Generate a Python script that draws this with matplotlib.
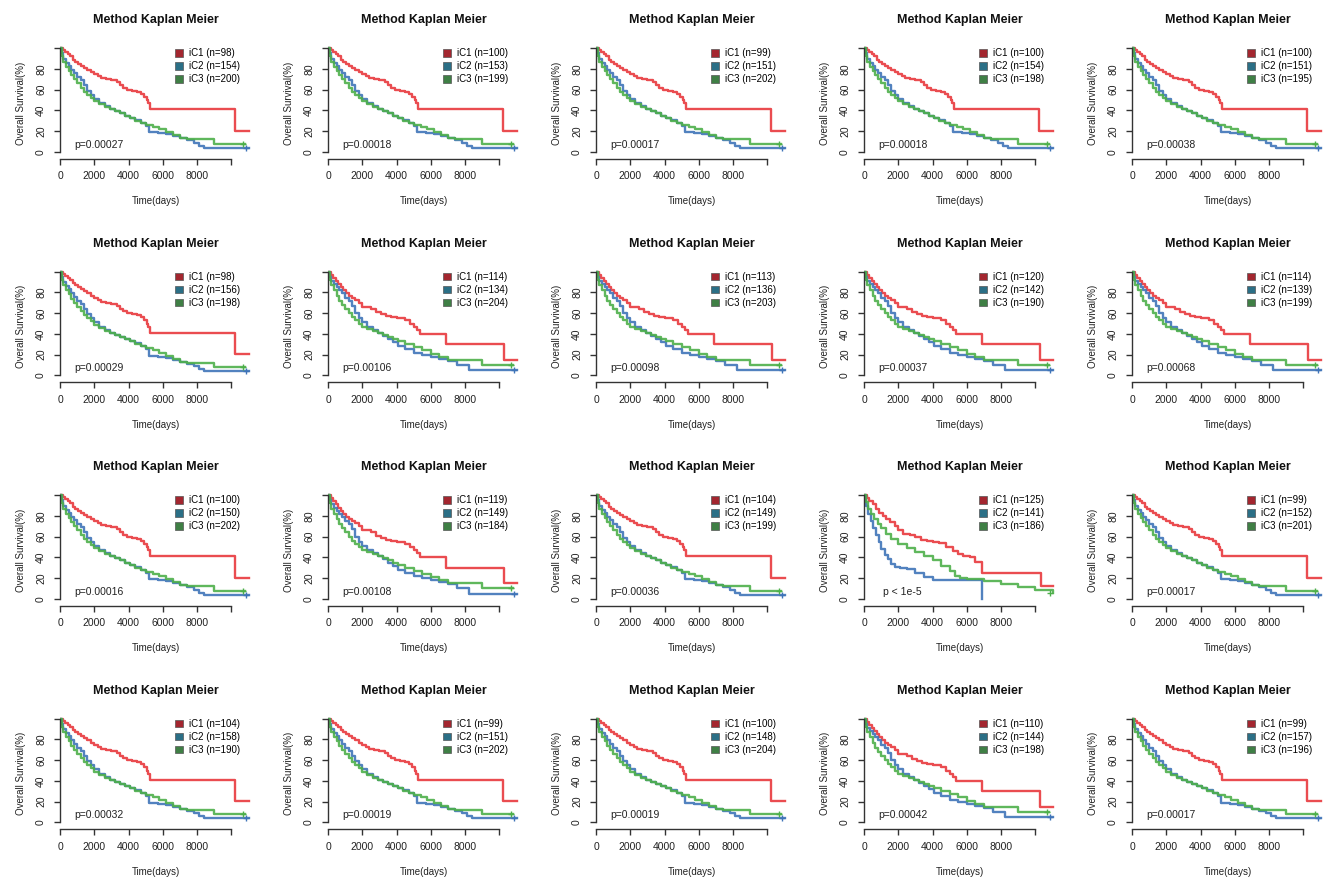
import matplotlib
matplotlib.use("Agg")
import matplotlib.pyplot as plt
from matplotlib.patches import Patch

plt.rcParams['font.family'] = ['Liberation Sans', 'DejaVu Sans']

# ---------------- data ----------------
N_IC1 = [98, 100, 99, 100, 100, 98, 114, 113, 120, 114, 100, 119, 104, 125, 99, 104, 99, 100, 110, 99]
N_IC2 = [154, 153, 151, 154, 151, 156, 134, 136, 142, 139, 150, 149, 149, 141, 152, 158, 151, 148, 144, 157]
N_IC3 = [200, 199, 202, 198, 195, 198, 204, 203, 190, 199, 202, 184, 199, 186, 201, 190, 202, 204, 198, 196]
P_TEXT = ["p=0.00027", "p=0.00018", "p=0.00017", "p=0.00018", "p=0.00038",
          "p=0.00029", "p=0.00106", "p=0.00098", "p=0.00037", "p=0.00068",
          "p=0.00016", "p=0.00108", "p=0.00036", "p < 1e-5", "p=0.00017",
          "p=0.00032", "p=0.00019", "p=0.00019", "p=0.00042", "p=0.00017"]
PANEL_SHAPE = ["A", "A", "A", "A", "A",
               "A", "B", "B", "B", "B",
               "A", "B", "A", "C", "A",
               "A", "A", "A", "B", "A"]

# shape A
RED_A_T = [0, 150, 300, 450, 600, 750, 900, 1050, 1200, 1400, 1600, 1800, 2000, 2200, 2400, 2700, 3000,
           3300, 3500, 3700, 3900, 4200, 4500, 4700, 4900, 5050, 5150, 5250, 10200, 11050]
RED_A_S = [100, 98, 96, 94, 92, 89, 87, 85, 83, 81, 79, 77, 75, 73, 71, 70, 69,
           67, 64, 62, 60, 59, 58, 56, 53, 50, 47, 41, 20.5, 20.5]
BLUE_A_T = [0, 100, 200, 350, 500, 650, 800, 1000, 1200, 1400, 1600, 1800, 2000, 2300, 2600, 2900, 3200,
            3500, 3800, 4100, 4400, 4700, 5000, 5200, 5700, 6200, 6600, 7000, 7400, 7800, 8100, 8400, 11000]
BLUE_A_S = [100, 95, 90, 86, 83, 79, 76, 72, 69, 64, 59, 55, 51, 47, 44, 41, 39,
            37, 35, 33, 31, 28, 25, 19, 18, 17, 15, 13, 11, 9, 6, 4, 4]
GREEN_A_T = [0, 100, 200, 350, 500, 650, 800, 1000, 1200, 1400, 1600, 1800, 2000, 2300, 2600, 2900, 3200,
             3500, 3800, 4100, 4400, 4700, 5000, 5400, 5800, 6200, 6600, 7000, 7400, 9000, 10800]
GREEN_A_S = [100, 92, 87, 82, 78, 74, 70, 66, 62, 58, 55, 52, 49, 46, 43, 41, 39,
             37, 35, 33, 30, 28, 26, 24, 22, 19, 16, 13, 12, 8, 8]

# shape B
RED_B_T = [0, 150, 300, 450, 600, 750, 900, 1050, 1200, 1400, 1600, 1800, 2000, 2500, 2800, 3100, 3400,
           3700, 4000, 4500, 4800, 5000, 5200, 5350, 6900, 10250, 11050]
RED_B_S = [100, 97, 94, 91, 88, 85, 82, 79, 77, 75, 73, 70, 66, 64, 61, 59, 57,
           56, 55, 53, 50, 47, 44, 40, 30, 15, 15]
BLUE_B_T = [0, 100, 200, 350, 500, 650, 800, 1000, 1200, 1400, 1600, 1800, 2000, 2300, 2600, 2900, 3200,
            3500, 3800, 4100, 4500, 5000, 5500, 6000, 6500, 7000, 7500, 8200, 11000]
BLUE_B_S = [100, 95, 91, 88, 85, 82, 79, 75, 72, 67, 60, 55, 51, 47, 44, 41, 38,
            35, 32, 28, 25, 22, 20, 18, 16, 14, 10, 5, 5]
GREEN_B_T = [0, 100, 200, 350, 500, 650, 800, 1000, 1200, 1400, 1600, 1800, 2000, 2300, 2600, 2900, 3200,
             3500, 3800, 4100, 4500, 5000, 5500, 6000, 6500, 7000, 9000, 10800]
GREEN_B_S = [100, 92, 87, 82, 77, 72, 68, 64, 60, 56, 53, 50, 47, 45, 43, 41, 39,
             37, 35, 33, 30, 27, 24, 21, 18, 15, 10, 10]

# shape C
RED_C_T = [0, 150, 300, 500, 700, 900, 1100, 1300, 1500, 1800, 2000, 2300, 2700, 3000, 3300, 3700,
           4000, 4400, 4800, 5200, 5500, 5800, 6200, 6500, 6900, 10300, 11050]
RED_C_S = [100, 97, 94, 91, 87, 83, 80, 77, 74, 70, 66, 63, 62, 60, 57, 56,
           55, 54, 50, 46, 43, 41, 40, 36, 25, 12, 12]
BLUE_C_T = [0, 100, 250, 400, 550, 700, 850, 1000, 1200, 1400, 1600, 1800, 2100, 2500, 3000, 3500, 4000, 6900, 6900]
BLUE_C_S = [100, 90, 82, 75, 68, 62, 55, 48, 42, 38, 34, 31, 30, 29, 25, 21, 18, 18, 0]
GREEN_C_T = [0, 100, 250, 400, 600, 800, 1000, 1300, 1600, 2000, 2500, 3000, 3500, 4000, 4500, 5000,
             5300, 5600, 6000, 7000, 8000, 9000, 10000, 11000]
GREEN_C_S = [100, 93, 87, 82, 77, 72, 68, 63, 58, 53, 49, 45, 41, 37, 32, 27,
             22, 20, 19, 17, 14, 11, 9, 6]

SHAPES = {
    "A": ((RED_A_T, RED_A_S), (BLUE_A_T, BLUE_A_S), (GREEN_A_T, GREEN_A_S)),
    "B": ((RED_B_T, RED_B_S), (BLUE_B_T, BLUE_B_S), (GREEN_B_T, GREEN_B_S)),
    "C": ((RED_C_T, RED_C_S), (BLUE_C_T, BLUE_C_S), (GREEN_C_T, GREEN_C_S)),
}

X_TICKS = [0, 2000, 4000, 6000, 8000, 10000]
X_TICK_LABELS = ["0", "2000", "4000", "6000", "8000", ""]
Y_TICKS = [0, 20, 40, 60, 80, 100]
Y_TICK_LABELS = ["0", "20", "40", "60", "80", ""]

LINE_COLORS = ["#E8383D", "#3F74B8", "#4DAF4A"]
LEGEND_COLORS = ["#A3262F", "#2B6F86", "#3F7F45"]

# ---------------- figure ----------------
W, H = 1340, 894
fig = plt.figure(figsize=(W / 100, H / 100), dpi=100)
cell_w, cell_h = W / 5, H / 4
ax_left, ax_width = 60, 192
ax_top, ax_height = 44, 112

for i in range(20):
    r, c = divmod(i, 5)
    left = (c * cell_w + ax_left) / W
    bottom = 1 - (r * cell_h + ax_top + ax_height) / H
    ax = fig.add_axes([left, bottom, ax_width / W, ax_height / H])
    curves = SHAPES[PANEL_SHAPE[i]]
    for (t, s), col in zip(curves, LINE_COLORS):
        ax.step(t, s, where='post', color=col, lw=1.7, alpha=0.9)
    # censor marks at the last observation
    for (t, s), col in zip(curves[1:], LINE_COLORS[1:]):
        if s[-1] > 0:
            ax.plot([t[-1] - 150], [s[-1]], marker='+', color=col, ms=5, mew=1)

    ax.set_xlim(0, 11200)
    ax.set_ylim(-4, 104)
    for sp in ['top', 'right']:
        ax.spines[sp].set_visible(False)
    ax.spines['left'].set_bounds(0, 100)
    ax.spines['bottom'].set_bounds(0, 10000)
    ax.spines['bottom'].set_position(('outward', 2))
    for sp in ['left', 'bottom']:
        ax.spines[sp].set_linewidth(1.0)
        ax.spines[sp].set_color('#333333')
    ax.set_xticks(X_TICKS)
    ax.set_xticklabels(X_TICK_LABELS)
    ax.set_yticks(Y_TICKS)
    ax.set_yticklabels(Y_TICK_LABELS, rotation=90, va='center')
    ax.tick_params(axis='both', length=4, width=1.0, color='#333333', labelsize=7.5, labelcolor='#222222')
    ax.tick_params(axis='y', pad=6)
    ax.tick_params(axis='x', pad=5)

    ax.set_title('Method Kaplan Meier', fontsize=9, fontweight='bold', pad=15, color='#111111')
    ax.set_ylabel('Overall Survival(%)', fontsize=7, color='#222222')
    ax.yaxis.set_label_coords(-0.175, 0.47)
    ax.set_xlabel('Time(days)', fontsize=7, color='#222222')
    ax.xaxis.set_label_coords(0.5, -0.36)

    ax.text(2250, 7, P_TEXT[i], fontsize=7.5, ha='center', va='center', color='#222222')

    labels = [f"iC1 (n={N_IC1[i]})", f"iC2 (n={N_IC2[i]})", f"iC3 (n={N_IC3[i]})"]
    handles = [Patch(facecolor=lc, edgecolor='#555555', linewidth=0.5) for lc in LEGEND_COLORS]
    ax.legend(handles, labels, loc='upper left', bbox_to_anchor=(0.6, 0.96), frameon=False,
              fontsize=7, handlelength=0.8, handleheight=0.8, handletextpad=0.6,
              labelspacing=0.3, borderpad=0, borderaxespad=0)

fig.savefig('out.png', dpi=100, facecolor='white')
